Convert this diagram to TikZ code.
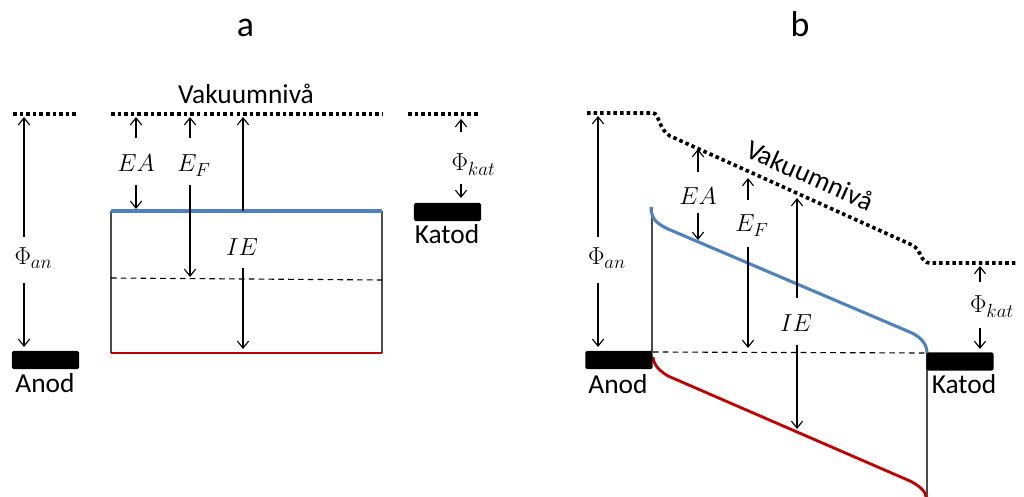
\documentclass[tikz,border=0pt]{standalone}
\usepackage{fix-cm}
\usepackage{fontspec}
\setmainfont{Carlito}
\DeclareMathSizes{17.5}{17.5}{13.5}{10}
\usetikzlibrary{arrows.meta}
\definecolor{bandblue}{HTML}{4F81BD}
\definecolor{bandred}{HTML}{C00000}
\begin{document}
\begin{tikzpicture}[
    x=0.025cm, y=-0.025cm,
    vacuum/.style={line width=2.6pt, dash pattern=on 2.5pt off 2.2pt},
    arrow/.style={-{Straight Barb[length=5pt,width=8pt]}, line width=0.8pt},
    conduction/.style={line width=2.2pt, bandblue},
    valence/.style={line width=2pt, bandred},
    fermi/.style={line width=0.8pt, dash pattern=on 4pt off 3pt},
    wall/.style={line width=0.8pt, black!70},
    electrode/.style={fill=black, rounded corners=1pt, minimum width=1.68cm, minimum height=0.45cm, inner sep=0pt},
    title/.style={font=\fontsize{25.5}{30}\selectfont, anchor=base},
    lbl/.style={font=\fontsize{19.5}{23}\selectfont, anchor=base, inner sep=0pt},
    sym/.style={font=\fontsize{17.5}{21}\selectfont, anchor=base, inner sep=0pt}
]
\useasboundingbox (0,0) rectangle (1024,497);

% Titles
\node[title] (title_a) at (245.5,37) {a};
\node[title] (title_b) at (800,37) {b};

%%% Panel a

% Vacuum level
\draw[vacuum] (13,114) -- (78,114);
\draw[vacuum] (111,114) -- (382,114);
\draw[vacuum] (408,114) -- (480,114);
\node[lbl] (vac_a) at (246,104) {Vakuumnivå};

% Bands
\draw[wall] (111,211) -- (111,353);
\draw[wall] (382,211) -- (382,353);
\draw[fermi] (111,278) -- (382,280);
\draw[conduction] (111,211) -- (382,211);
\draw[valence] (111,353) -- (382,353);

% Electrodes
\node[electrode] (anod_a) at (45.5,360) {};
\node[lbl] (anod_a_txt) at (45,392) {Anod};
\node[electrode] (katod_a) at (447.5,212) {};
\node[lbl] (katod_a_txt) at (447,244) {Katod};

% Labels
\node[sym] (phi_an_a) at (33.5,265) {$\Phi_{an}$};
\node[sym] (ea_a) at (136,172) {$EA$};
\node[sym] (ef_a) at (194,172) {$E_F$};
\node[sym] (ie_a) at (242,256) {$IE$};
\node[sym] (phi_kat_a) at (473.5,171) {$\Phi_{kat}$};

% Arrow ends
\coordinate (pa1) at (24,237);  \coordinate (pa2) at (24,117);
\coordinate (pa3) at (24,283);  \coordinate (pa4) at (24,347);
\coordinate (ea1) at (136,138); \coordinate (ea2) at (136,117);
\coordinate (ea3) at (136,185); \coordinate (ea4) at (136,209);
\coordinate (ef1) at (190,138); \coordinate (ef2) at (190,117);
\coordinate (ef3) at (190,185); \coordinate (ef4) at (190,277);
\coordinate (ie1) at (243,211); \coordinate (ie2) at (243,117);
\coordinate (ie3) at (243,268); \coordinate (ie4) at (243,349);
\coordinate (pk1) at (461,132); \coordinate (pk2) at (461,119);
\coordinate (pk3) at (461,184); \coordinate (pk4) at (461,198);

\draw[arrow] (pa1) -- (pa2);
\draw[arrow] (pa3) -- (pa4);
\draw[arrow] (ea1) -- (ea2);
\draw[arrow] (ea3) -- (ea4);
\draw[arrow] (ef1) -- (ef2);
\draw[arrow] (ef3) -- (ef4);
\draw[arrow] (ie1) -- (ie2);
\draw[arrow] (ie3) -- (ie4);
\draw[arrow] (pk1) -- (pk2);
\draw[arrow] (pk3) -- (pk4);

%%% Panel b

% Vacuum level
\draw[vacuum] (587,113) -- (653,113) .. controls (659,113) and (659,130) .. (670,136)
    -- (912,245) .. controls (922,250) and (920,263) .. (930,263) -- (1017,263);
\node[lbl, rotate=-24, anchor=center] (vac_b) at (810,175) {Vakuumnivå};

% Bands
\draw[wall] (652,207) -- (652,352);
\draw[wall] (927,353) -- (927,497);
\draw[fermi] (653,352) -- (927,353);
\draw[conduction] (651,207) .. controls (651,220) and (658,224) .. (668,229)
    -- (912,333) .. controls (922,338) and (927,345) .. (927,353);
\draw[valence] (653,357) .. controls (654,366) and (660,371) .. (668,376)
    -- (910,481) .. controls (920,486) and (926,492) .. (926,497);

% Electrodes
\node[electrode] (anod_b) at (619,360) {};
\node[lbl] (anod_b_txt) at (618,393) {Anod};
\node[electrode] (katod_b) at (960,361.5) {};
\node[lbl] (katod_b_txt) at (964,393) {Katod};

% Labels
\node[sym] (phi_an_b) at (607,265) {$\Phi_{an}$};
\node[sym] (ea_b) at (698,205) {$EA$};
\node[sym] (ef_b) at (752,232) {$E_F$};
\node[sym] (ie_b) at (796,332) {$IE$};
\node[sym] (phi_kat_b) at (992,313) {$\Phi_{kat}$};

% Arrow ends
\coordinate (pb1) at (598,237); \coordinate (pb2) at (598,116);
\coordinate (pb3) at (598,283); \coordinate (pb4) at (598,347);
\coordinate (eb1) at (698,172); \coordinate (eb2) at (698,149);
\coordinate (eb3) at (698,213); \coordinate (eb4) at (698,240);
\coordinate (fb1) at (748,200); \coordinate (fb2) at (748,178);
\coordinate (fb3) at (748,247); \coordinate (fb4) at (748,348);
\coordinate (ib1) at (797,298); \coordinate (ib2) at (797,198);
\coordinate (ib3) at (797,345); \coordinate (ib4) at (797,429);
\coordinate (kb1) at (980,282); \coordinate (kb2) at (980,266);
\coordinate (kb3) at (980,328); \coordinate (kb4) at (980,349);

\draw[arrow] (pb1) -- (pb2);
\draw[arrow] (pb3) -- (pb4);
\draw[arrow] (eb1) -- (eb2);
\draw[arrow] (eb3) -- (eb4);
\draw[arrow] (fb1) -- (fb2);
\draw[arrow] (fb3) -- (fb4);
\draw[arrow] (ib1) -- (ib2);
\draw[arrow] (ib3) -- (ib4);
\draw[arrow] (kb1) -- (kb2);
\draw[arrow] (kb3) -- (kb4);

\end{tikzpicture}
\end{document}
